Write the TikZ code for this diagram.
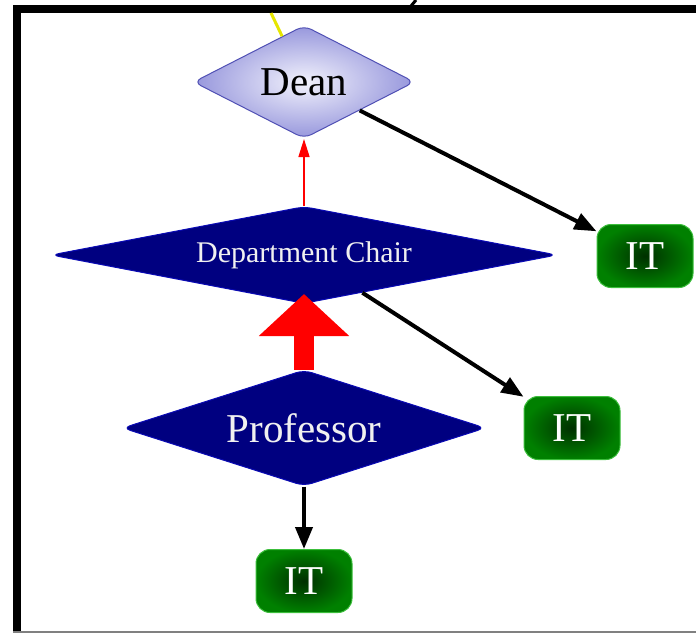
\documentclass[tikz,border=0pt]{standalone}
\usepackage{fontspec}
\setmainfont{Liberation Serif}
\usetikzlibrary{shapes.geometric, arrows.meta}
\usepackage{xcolor}

\definecolor{navyfill}{RGB}{0,0,128}
\definecolor{navyedge}{RGB}{10,10,180}
\definecolor{offwhite}{RGB}{240,240,240}
\definecolor{deanout}{RGB}{150,150,220}
\definecolor{deanin}{RGB}{242,242,252}
\definecolor{deanedge}{RGB}{80,80,180}
\definecolor{itgreen}{RGB}{0,128,0}
\definecolor{itdark}{RGB}{0,48,0}
\definecolor{itedge}{RGB}{60,190,60}
\definecolor{wireyellow}{RGB}{230,230,0}

\begin{document}
\begin{tikzpicture}[x=1pt, y=-1pt,
    % Base style for the diamond shaped roles
    role/.style={diamond, inner sep=0pt, rounded corners=8pt, line width=1pt},
    navyrole/.style={role, fill=navyfill, draw=navyedge, text=offwhite},
    % Style for the green IT boxes
    itbox/.style={rectangle, rounded corners=14pt, minimum width=96pt, minimum height=63pt,
      shading=radial, inner color=itdark, outer color=itgreen, draw=itedge, line width=1pt,
      text=white, font=\fontsize{41}{45}\selectfont},
    % Black connectors
    link/.style={-{Triangle[length=22pt,width=17pt]}, line width=4pt, black}
  ]
  \useasboundingbox (0,0) rectangle (696,633);

  % --- Frame ---
  \draw[line width=8pt, miter limit=10] (696,9) -- (17,9) -- (17,633);
  \draw[gray, line width=1.5pt] (13,632) -- (696,632);
  \draw[line width=3pt] (411,6) -- (416,0);

  % --- Roles ---
  \node[role, aspect=2, minimum width=221pt, minimum height=113pt, shading=radial,
    inner color=deanin, outer color=deanout, draw=deanedge,
    font=\fontsize{41}{45}\selectfont] (dean) at (304,82) {Dean};
  \node[navyrole, aspect=5, minimum width=506pt, minimum height=97pt,
    font=\fontsize{30}{34}\selectfont] (chair) at (304,255) {Department Chair};
  \node[navyrole, aspect=3, minimum width=363pt, minimum height=116pt,
    font=\fontsize{41}{45}\selectfont] (prof) at (304,428) {Professor};

  % --- IT boxes ---
  \node[itbox] (itdean) at (645,256) {IT};
  \node[itbox] (itchair) at (572,428) {IT};
  \node[itbox] (itprof) at (304,581) {IT};

  % --- Connectors ---
  \coordinate (wire) at (271,13);
  \draw[wireyellow, line width=3pt] (wire) -- (dean);
  \draw[link] (dean) -- (itdean);
  \draw[link] (chair) -- (itchair);
  \draw[link] (prof) -- (itprof);
  \draw[red, line width=1.5pt, -{Triangle[length=18pt,width=11pt]}] (chair) -- (dean);
  \draw[red, line width=20pt, shorten >=-10pt, -{Triangle[length=42pt,width=88pt]}] (prof) -- (chair);
\end{tikzpicture}
\end{document}
